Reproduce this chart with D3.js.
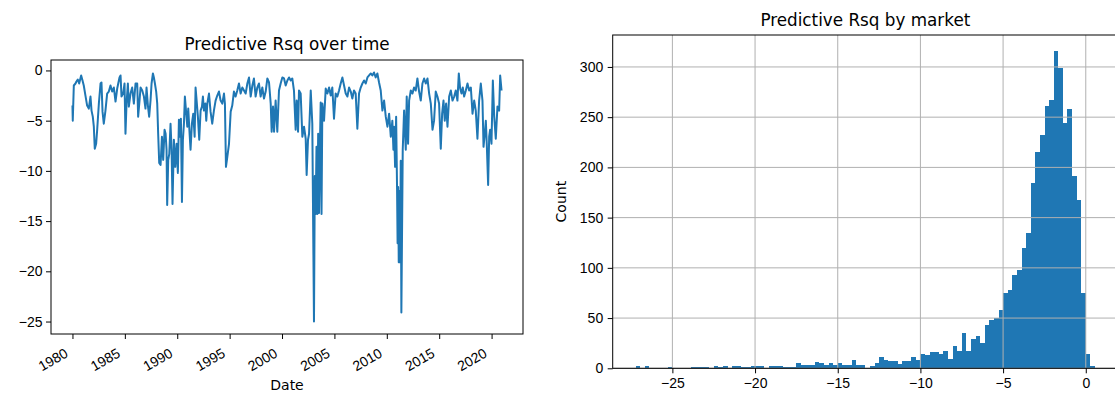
<!DOCTYPE html>
<html>
<head>
<meta charset="utf-8">
<script src="https://cdn.jsdelivr.net/npm/d3@7"></script>
<style>
body { margin: 0; background: #fff; }
svg { font-family: "DejaVu Sans", sans-serif; }
.tick text { font-size: 14px; fill: #000; }
.tick line { stroke: #000; }
</style>
</head>
<body>
<script>
// left panel: monthly-ish predictive Rsq (decimal year, value)
var timeYears = [
	1980.00,1980.03,1980.13,1980.29,1980.38,1980.51,1980.64,1980.83,1980.96,1981.08,1981.24,1981.40,1981.56,1981.72,1981.82,1981.94,
	1982.04,1982.13,1982.26,1982.36,1982.52,1982.68,1982.77,1982.87,1982.99,1983.15,1983.31,1983.47,1983.63,1983.79,1983.95,
	1984.11,1984.27,1984.49,1984.59,1984.68,1984.84,1984.97,1985.06,1985.16,1985.29,1985.38,1985.54,1985.70,1985.86,
	1986.02,1986.18,1986.27,1986.40,1986.50,1986.66,1986.82,1986.97,1987.07,1987.20,1987.32,1987.45,1987.55,1987.68,1987.77,1987.87,1987.99,
	1988.09,1988.18,1988.28,1988.41,1988.54,1988.66,1988.79,1988.89,1988.98,1989.04,1989.14,1989.24,1989.36,1989.46,1989.55,1989.68,1989.81,1989.94,
	1990.06,1990.16,1990.25,1990.35,1990.45,1990.54,1990.64,1990.73,1990.86,1990.96,1991.05,1991.18,1991.27,1991.40,1991.53,1991.66,1991.75,1991.85,1991.97,
	1992.10,1992.23,1992.36,1992.45,1992.55,1992.68,1992.77,1992.87,1993.03,1993.18,1993.34,1993.50,1993.66,1993.82,1993.98,
	1994.14,1994.30,1994.46,1994.55,1994.65,1994.78,1994.94,1995.10,1995.25,1995.41,1995.57,1995.73,1995.89,
	1996.05,1996.21,1996.37,1996.53,1996.69,1996.85,1997.01,1997.17,1997.32,1997.48,1997.64,1997.80,1997.96,
	1998.12,1998.28,1998.44,1998.60,1998.76,1998.92,1999.01,1999.14,1999.24,1999.39,1999.55,1999.71,1999.87,
	2000.03,2000.19,2000.35,2000.51,2000.67,2000.83,2000.98,2001.14,2001.30,2001.40,2001.53,2001.62,2001.78,2001.94,
	2002.10,2002.26,2002.35,2002.48,2002.58,2002.74,2002.89,2003.05,2003.13,2003.21,2003.29,2003.37,2003.45,2003.53,2003.61,2003.69,2003.77,2003.85,
	2004.01,2004.17,2004.33,2004.49,2004.65,2004.80,2004.96,2005.12,2005.28,2005.44,2005.60,2005.76,2005.92,
	2006.08,2006.24,2006.40,2006.56,2006.71,2006.87,2007.03,2007.19,2007.35,2007.51,2007.67,2007.83,2007.99,
	2008.15,2008.31,2008.47,2008.62,2008.78,2008.94,2009.10,2009.26,2009.42,2009.58,2009.74,2009.90,
	2010.06,2010.22,2010.38,2010.53,2010.63,2010.69,2010.79,2010.89,2010.98,2011.03,2011.08,2011.14,2011.20,2011.27,2011.33,2011.39,2011.52,2011.65,2011.81,2011.90,
	2012.03,2012.13,2012.29,2012.45,2012.60,2012.76,2012.92,2013.08,2013.24,2013.40,2013.56,2013.72,2013.88,
	2014.04,2014.20,2014.36,2014.51,2014.67,2014.83,2014.99,2015.15,2015.28,2015.41,2015.53,2015.66,2015.79,2015.95,
	2016.11,2016.27,2016.43,2016.58,2016.74,2016.87,2017.00,2017.13,2017.25,2017.38,2017.54,2017.70,2017.86,
	2018.02,2018.18,2018.34,2018.49,2018.65,2018.81,2018.97,2019.13,2019.23,2019.35,2019.45,2019.54,2019.67,2019.77,2019.86,2019.99,
	2020.12,2020.25,2020.40,2020.56,2020.72,2020.82,2020.95
];
var timeRsq = [
	-3.5,-5.0,-1.5,-1.3,-1.1,-0.9,-1.3,-0.5,-1.0,-1.5,-2.5,-3.5,-3.8,-2.6,-4.0,-4.6,
	-5.6,-7.8,-7.3,-5.9,-3.3,-1.3,-1.2,-4.1,-5.3,-4.0,-2.3,-2.1,-1.5,-2.1,-1.7,
	-3.1,-1.8,-0.7,-0.5,-2.6,-2.3,-1.3,-6.3,-3.3,-1.3,-3.6,-2.3,-1.7,-3.3,
	-1.3,-1.3,-4.6,-3.0,-1.7,-2.0,-2.6,-3.8,-1.7,-3.5,-4.6,-3.0,-1.3,-0.3,-0.7,-1.3,-2.1,
	-3.3,-6.3,-9.2,-9.4,-6.6,-8.9,-5.9,-6.3,-7.9,-13.4,-8.9,-8.3,-5.3,-7.9,-13.3,-6.9,-9.6,-7.3,
	-10.2,-4.9,-6.6,-4.8,-13.1,-6.9,-5.3,-2.6,-4.3,-5.6,-3.8,-6.3,-7.9,-5.3,-4.3,-6.6,-1.7,-3.0,-4.6,
	-6.9,-4.0,-3.6,-2.6,-4.0,-3.3,-5.0,-3.3,-2.3,-4.1,-5.3,-4.0,-3.0,-2.5,-2.1,
	-3.0,-3.3,-2.3,-3.3,-9.6,-8.6,-7.3,-4.1,-3.5,-2.1,-2.6,-2.0,-1.3,
	-2.3,-1.7,-2.0,-2.3,-1.3,-0.7,-2.6,-1.5,-0.8,-2.6,-1.7,-1.3,-2.6,
	-1.7,-2.8,-2.1,-0.8,-1.2,-3.3,-6.1,-3.6,-6.1,-3.0,-6.1,-2.0,-1.3,
	-0.7,-0.8,-1.5,-1.0,-0.7,-1.0,-0.8,-2.0,-5.9,-3.0,-6.1,-2.0,-2.3,-6.6,
	-5.6,-6.8,-10.4,-6.9,-6.3,-2.0,-5.3,-25.0,-10.5,-14.3,-7.6,-14.3,-6.3,-14.2,-7.9,-3.2,-14.3,-3.3,
	-5.0,-1.8,-2.3,-1.7,-2.5,-1.7,-4.8,-2.3,-2.6,-2.0,-1.3,-0.7,-1.5,
	-2.3,-2.6,-1.7,-2.1,-2.8,-2.0,-2.3,-5.8,-2.3,-1.7,-1.3,-1.0,-1.3,
	-0.7,-0.5,-0.3,-0.5,-0.2,-0.7,-0.3,-1.2,-2.0,-4.0,-3.0,-4.6,
	-5.6,-4.3,-6.6,-5.0,-7.9,-5.6,-9.6,-4.6,-11.9,-17.2,-11.6,-19.1,-12.0,-19.1,-9.0,-24.1,-7.9,-4.0,-7.9,-2.6,
	-7.3,-3.0,-2.0,-2.3,-1.7,-2.0,-0.8,-2.1,-3.0,-1.3,-0.8,-1.3,-0.8,
	-2.3,-3.3,-5.9,-5.0,-2.1,-2.6,-3.3,-7.8,-4.3,-3.0,-5.0,-3.3,-5.6,-2.6,
	-2.0,-3.0,-2.6,-2.0,-3.0,-0.3,-1.8,-2.3,-1.7,-2.6,-2.0,-1.3,-2.0,
	-1.7,-4.3,-3.0,-4.0,-6.8,-3.0,-1.3,-3.0,-7.6,-6.3,-5.0,-7.3,-11.4,-6.6,-5.9,-7.3,
	-1.0,-4.6,-6.8,-3.6,-4.0,-0.5,-2.0
];
var yearTicks = [1980, 1985, 1990, 1995, 2000, 2005, 2010, 2015, 2020];
var rsqTicks = [0, -5, -10, -15, -20, -25];

// right panel: histogram of Rsq by market, 100 equal bins
var histMin = -27.22;
var histMax = 0.56;
var histCounts = [
	2,0,2,0,0,0,0,1,0,0,0,0,1,1,1,1,0,2,1,2,
	0,2,2,1,1,2,2,2,0,2,2,2,1,1,1,5,3,3,3,6,
	5,3,5,3,5,3,3,8,3,3,0,2,5,11,8,7,7,4,7,7,
	11,8,14,13,16,16,14,17,9,22,17,35,17,29,32,25,43,48,50,58,
	75,78,93,98,120,135,184,215,232,261,267,316,299,244,258,191,168,75,14,2
];
var histXTicks = [-25, -20, -15, -10, -5, 0];
var histYTicks = [0, 50, 100, 150, 200, 250, 300];

var blue = '#1f77b4';

var svg = d3.select('body')
	.append('svg')
	.attr('width', 1115)
	.attr('height', 393);

// matplotlib style 5% margins
var padExtent = function(lo, hi) {
	var m = (hi - lo) * 0.05;
	return [lo - m, hi + m];
};

// ---------- LEFT: line over time ----------
var L = { left: 51, right: 523, top: 60, bottom: 334 };

var xL = d3.scaleLinear()
	.domain(padExtent(d3.min(timeYears), d3.max(timeYears)))
	.range([L.left, L.right]);
var yL = d3.scaleLinear()
	.domain(padExtent(d3.min(timeRsq), d3.max(timeRsq)))
	.range([L.bottom, L.top]);

var pts = timeYears.map(function(d, i) { return [d, timeRsq[i]]; });

svg.append('path')
	.datum(pts)
	.attr('fill', 'none')
	.attr('stroke', blue)
	.attr('stroke-width', 2)
	.attr('stroke-linejoin', 'round')
	.attr('d', d3.line()
		.x(function(d) { return xL(d[0]); })
		.y(function(d) { return yL(d[1]); }));

var gxL = svg.append('g')
	.attr('transform', 'translate(0,' + L.bottom + ')')
	.call(d3.axisBottom(xL).tickValues(yearTicks).tickFormat(d3.format('d')).tickSize(5));
gxL.select('.domain').remove();
gxL.selectAll('.tick text')
	.attr('y', 0)
	.attr('dy', 0)
	.attr('text-anchor', 'end')
	.attr('transform', 'translate(-4,22) rotate(-30)');

var gyL = svg.append('g')
	.attr('transform', 'translate(' + L.left + ',0)')
	.call(d3.axisLeft(yL).tickValues(rsqTicks).tickFormat(d3.format('d')).tickSize(5).tickPadding(3.5));
gyL.select('.domain').remove();

svg.append('rect')
	.attr('x', L.left).attr('y', L.top)
	.attr('width', L.right - L.left).attr('height', L.bottom - L.top)
	.attr('fill', 'none').attr('stroke', '#000').attr('stroke-width', 1);

svg.append('text')
	.attr('x', (L.left + L.right) / 2).attr('y', 50)
	.attr('text-anchor', 'middle')
	.style('font-size', '16.8px')
	.text('Predictive Rsq over time');

svg.append('text')
	.attr('x', (L.left + L.right) / 2).attr('y', 390)
	.attr('text-anchor', 'middle')
	.style('font-size', '14px')
	.text('Date');

// ---------- RIGHT: histogram ----------
var R = { left: 612.7, right: 1118, top: 35, bottom: 368.3 };

var binW = (histMax - histMin) / histCounts.length;
var bins = histCounts.map(function(c, i) {
	return { x0: histMin + i * binW, x1: histMin + (i + 1) * binW, n: c };
});

var xR = d3.scaleLinear()
	.domain(padExtent(histMin, histMax))
	.range([R.left, R.right]);
var yR = d3.scaleLinear()
	.domain([0, d3.max(histCounts) * 1.05])
	.range([R.bottom, R.top]);

svg.append('g')
	.selectAll('rect')
	.data(bins)
	.enter()
	.append('rect')
	.attr('x', function(d) { return xR(d.x0); })
	.attr('width', function(d) { return xR(d.x1) - xR(d.x0); })
	.attr('y', function(d) { return yR(d.n); })
	.attr('height', function(d) { return yR(0) - yR(d.n); })
	.attr('fill', blue)
	.attr('shape-rendering', 'crispEdges');

// grid sits above the bars
var grid = svg.append('g')
	.attr('stroke', '#b0b0b0')
	.attr('stroke-width', 1);
grid.selectAll('.vg')
	.data(histXTicks)
	.enter()
	.append('line')
	.attr('x1', function(d) { return xR(d); })
	.attr('x2', function(d) { return xR(d); })
	.attr('y1', R.top).attr('y2', R.bottom);
grid.selectAll('.hg')
	.data(histYTicks)
	.enter()
	.append('line')
	.attr('x1', R.left).attr('x2', R.right)
	.attr('y1', function(d) { return yR(d); })
	.attr('y2', function(d) { return yR(d); });

var gxR = svg.append('g')
	.attr('transform', 'translate(0,' + R.bottom + ')')
	.call(d3.axisBottom(xR).tickValues(histXTicks).tickFormat(d3.format('d')).tickSize(5).tickPadding(4.5));
gxR.select('.domain').remove();

var gyR = svg.append('g')
	.attr('transform', 'translate(' + R.left + ',0)')
	.call(d3.axisLeft(yR).tickValues(histYTicks).tickFormat(d3.format('d')).tickSize(5).tickPadding(4.5));
gyR.select('.domain').remove();

svg.append('rect')
	.attr('x', R.left).attr('y', R.top)
	.attr('width', R.right - R.left).attr('height', R.bottom - R.top)
	.attr('fill', 'none').attr('stroke', '#000').attr('stroke-width', 1);

svg.append('text')
	.attr('x', (R.left + R.right) / 2).attr('y', 26)
	.attr('text-anchor', 'middle')
	.style('font-size', '16.8px')
	.text('Predictive Rsq by market');

svg.append('text')
	.attr('transform', 'translate(566,' + ((R.top + R.bottom) / 2) + ') rotate(-90)')
	.attr('text-anchor', 'middle')
	.style('font-size', '14px')
	.text('Count');
</script>
</body>
</html>
